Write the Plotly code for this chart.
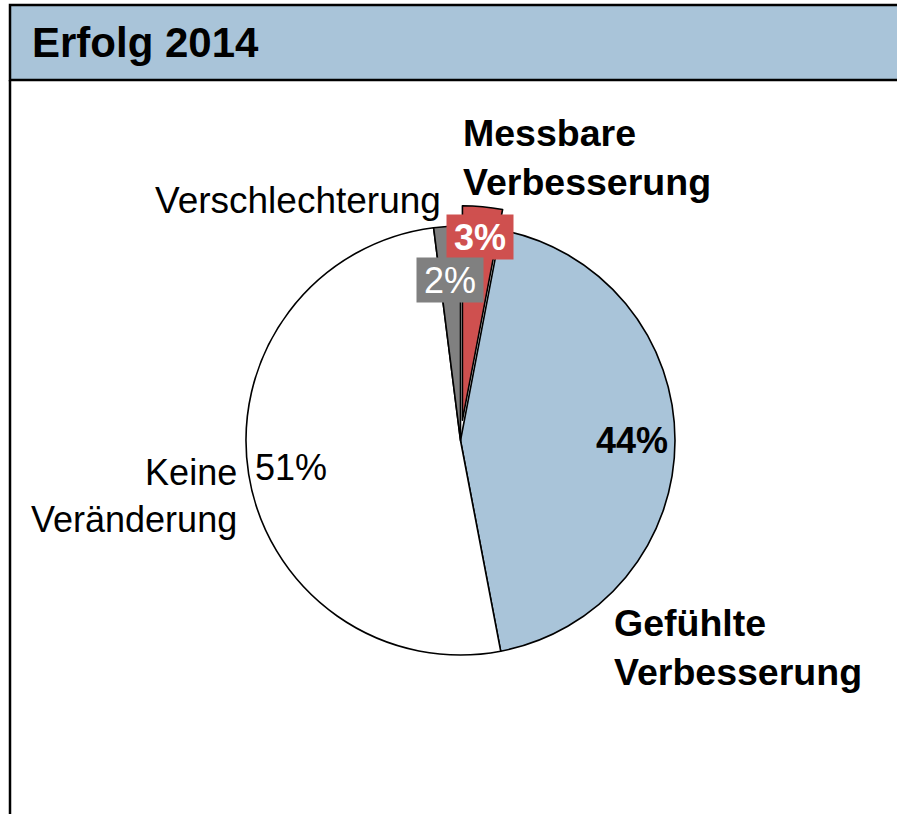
import math
import plotly.graph_objects as go

# ---- data ----
categories = ["Messbare<br>Verbesserung", "Gefühlte<br>Verbesserung", "Keine<br>Veränderung", "Verschlechterung"]
values = [3, 44, 51, 2]
pct_labels = ["3%", "44%", "51%", "2%"]
title_text = "Erfolg 2014"

# ---- style ----
W, H = 897, 814
FONT = "Liberation Sans, Arial, Helvetica, sans-serif"
slice_colors = ["#cf504f", "#a9c4d9", "#ffffff", "#808080"]
pulls = [0.095, 0, 0, 0]
label_r = [0.86, 0.8, 0.8, 0.75]          # radial position of % labels (fraction of radius)
pct_bold = [True, True, False, False]
pct_color = ["white", "black", "black", "white"]
pct_bg = ["#cf504f", None, None, "#808080"]
cat_bold = [True, True, False, False]
cat_size = [37.5, 37.5, 36, 37]
# outside category label placement (pixel x, pixel y, anchor)
cat_pos = [(461, 157, "left"), (612, 647, "left"), (239, 496, "right"), (443, 201, "right")]
PCT_SIZE = 36

CX, CY, R = 460.5, 440.5, 214.5
maxpull = max(pulls)
half = R * (1 + maxpull)


def px(x):
    return x / W


def py(y):
    return 1 - y / H


fig = go.Figure()
fig.add_trace(go.Pie(
    labels=[c.replace("<br>", " ") for c in categories],
    values=values,
    sort=False,
    direction="clockwise",
    rotation=0,
    pull=pulls,
    textinfo="none",
    hoverinfo="label+percent",
    marker=dict(colors=slice_colors, line=dict(color="black", width=1.6)),
    domain=dict(x=[px(CX - half), px(CX + half)], y=[py(CY + half), py(CY - half)]),
    showlegend=False,
))

annotations = []
# percentage labels, placed along each slice's mid angle
total = sum(values)
cum = 0
for i, v in enumerate(values):
    mid = (cum + v / 2) / total * 2 * math.pi
    cum += v
    r = R * (label_r[i] + pulls[i])
    x = CX + r * math.sin(mid)
    y = CY - r * math.cos(mid)
    txt = f"<b>{pct_labels[i]}</b>" if pct_bold[i] else pct_labels[i]
    a = dict(x=px(x), y=py(y), xref="paper", yref="paper", text=txt, showarrow=False,
             xanchor="center", yanchor="middle",
             font=dict(family=FONT, size=PCT_SIZE, color=pct_color[i]))
    if pct_bg[i]:
        a.update(bgcolor=pct_bg[i], borderpad=0, width=66, height=44)
    annotations.append(a)

# category labels
for i, c in enumerate(categories):
    x, y, anc = cat_pos[i]
    txt = f"<b>{c}</b>" if cat_bold[i] else c
    annotations.append(dict(x=px(x), y=py(y), xref="paper", yref="paper", text=txt,
                            showarrow=False, xanchor=anc, yanchor="middle", align=anc,
                            font=dict(family=FONT, size=cat_size[i], color="black")))

# title
annotations.append(dict(x=px(30), y=py(43), xref="paper", yref="paper",
                        text=f"<b>{title_text}</b>", showarrow=False,
                        xanchor="left", yanchor="middle",
                        font=dict(family=FONT, size=42, color="black")))

shapes = [
    dict(type="rect", xref="paper", yref="paper", x0=px(10), x1=px(W + 20), y0=py(80), y1=py(5),
         fillcolor="#a9c4d9", line=dict(color="black", width=2.5), layer="below"),
    dict(type="line", xref="paper", yref="paper", x0=px(10), x1=px(10), y0=py(80), y1=py(H + 20),
         line=dict(color="black", width=2.5)),
]

fig.update_layout(
    width=W, height=H,
    margin=dict(l=0, r=0, t=0, b=0),
    paper_bgcolor="white", plot_bgcolor="white",
    annotations=annotations, shapes=shapes,
    font=dict(family=FONT),
)

fig.write_html("out.html", config={"displayModeBar": False},
               post_script="document.body.style.margin='0';document.body.style.overflow='hidden';")
